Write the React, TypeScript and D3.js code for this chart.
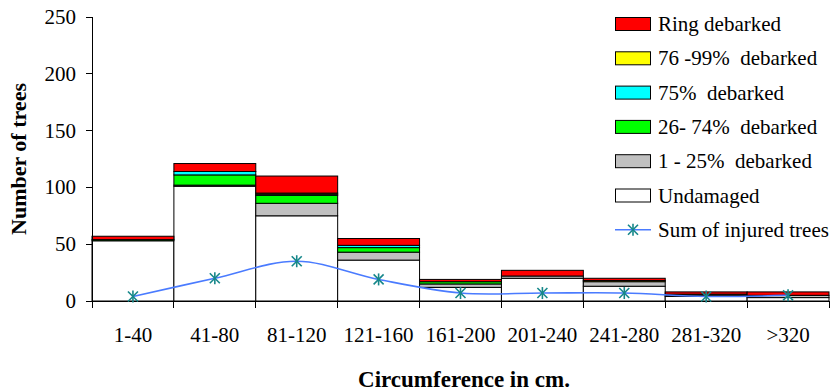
import React from "react";
import * as d3 from "d3";

const categories = ["1-40", "41-80", "81-120", "121-160", "161-200", "201-240", "241-280", "281-320", ">320"];
const undamaged = [53, 101, 75, 36, 12, 20, 13, 4, 3];
const deb1to25 = [0, 1, 11, 7, 3, 2, 4, 1, 2];
const deb26to74 = [1, 9, 7, 4, 2, 0, 0, 0, 0];
const deb75 = [0, 3, 1, 2, 0, 0, 0, 0, 0];
const deb76to99 = [0, 0, 1, 0, 0, 0, 1, 1, 0];
const ringDebarked = [3, 7, 15, 6, 2, 5, 2, 2, 3];
const injuredSum = [4, 20, 35, 19, 7, 7, 7, 4, 5];
const yTicks = [0, 50, 100, 150, 200, 250];

const seriesNames = ["Undamaged", "1 - 25%  debarked", "26- 74%  debarked", "75%  debarked", "76 -99%  debarked", "Ring debarked"];
const seriesValues = [undamaged, deb1to25, deb26to74, deb75, deb76to99, ringDebarked];
const seriesColors = ["#FFFFFF", "#C0C0C0", "#00FF00", "#00FFFF", "#FFFF00", "#FF0000"];
const lineName = "Sum of injured trees";

const W = 833;
const H = 392;
const FONT = "'Liberation Serif', 'Times New Roman', serif";

export default function App() {
  const x = d3.scaleBand<string>().domain(categories).range([92, 829]).padding(0);
  const y = d3.scaleLinear().domain([0, 250]).range([301, 17]);

  const rows = categories.map((c, i) => {
    const o: any = { cat: c };
    seriesNames.forEach((n, k) => (o[n] = seriesValues[k][i]));
    return o;
  });
  const stacked = d3.stack<any>().keys(seriesNames)(rows);

  const line = d3
    .line<number>()
    .x((_, i) => (x(categories[i]) as number) + x.bandwidth() / 2)
    .y((d) => y(d))
    .curve(d3.curveCatmullRom.alpha(0));

  const star = (cx: number, cy: number, key: string) => {
    const r = 5;
    return (
      <g key={key} stroke="#16878A" strokeWidth={1.6}>
        <line x1={cx - r} y1={cy - r} x2={cx + r} y2={cy + r} />
        <line x1={cx - r} y1={cy + r} x2={cx + r} y2={cy - r} />
        <line x1={cx} y1={cy - r - 1} x2={cx} y2={cy + r + 1} />
      </g>
    );
  };

  const legendItems = [...seriesNames].reverse().map((n) => ({
    name: n,
    color: seriesColors[seriesNames.indexOf(n)],
  }));
  const legendY0 = 24;
  const legendStep = 34.3;

  return (
    <svg
      width={W}
      height={H}
      style={{ position: "absolute", left: 0, top: 0, background: "#fff" }}
      fontFamily={FONT}
    >
      {/* bars */}
      {stacked.map((s, k) => (
        <g key={s.key} fill={seriesColors[k]} stroke="#000" strokeWidth={1}>
          {s.map((d, i) =>
            d[1] - d[0] > 0 ? (
              <rect
                key={i}
                x={x(categories[i])}
                y={y(d[1])}
                width={x.bandwidth()}
                height={y(d[0]) - y(d[1])}
              />
            ) : null
          )}
        </g>
      ))}

      {/* axes */}
      <g stroke="#000" strokeWidth={1} shapeRendering="crispEdges">
        <line x1={92} y1={y(250)} x2={92} y2={y(0)} />
        {yTicks.map((t) => (
          <line key={t} x1={86} x2={92} y1={y(t)} y2={y(t)} />
        ))}
        <line x1={92} y1={y(0)} x2={829} y2={y(0)} />
        {categories.map((c) => (
          <line key={c} x1={x(c)} x2={x(c)} y1={y(0)} y2={y(0) + 7} />
        ))}
        <line x1={829} x2={829} y1={y(0)} y2={y(0) + 7} />
      </g>

      {yTicks.map((t) => (
        <text key={t} x={76} y={y(t)} textAnchor="end" dominantBaseline="central" fontSize={21}>
          {t}
        </text>
      ))}
      {categories.map((c) => (
        <text
          key={c}
          x={(x(c) as number) + x.bandwidth() / 2}
          y={335}
          textAnchor="middle"
          dominantBaseline="central"
          fontSize={21}
        >
          {c}
        </text>
      ))}

      <text
        transform={`translate(18,159) rotate(-90)`}
        textAnchor="middle"
        dominantBaseline="central"
        fontSize={22}
        fontWeight="bold"
      >
        Number of trees
      </text>
      <text x={464} y={379} textAnchor="middle" dominantBaseline="central" fontSize={23} fontWeight="bold">
        Circumference in cm.
      </text>

      {/* sum line */}
      <path d={line(injuredSum) || ""} fill="none" stroke="#4A7BFF" strokeWidth={1.6} />
      {injuredSum.map((v, i) => star((x(categories[i]) as number) + x.bandwidth() / 2, y(v), "s" + i))}

      {/* legend */}
      {legendItems.map((it, i) => {
        const cy = legendY0 + i * legendStep;
        return (
          <g key={it.name}>
            <rect x={615.5} y={cy - 6.5} width={35} height={13} fill={it.color} stroke="#000" strokeWidth={1} />
            <text x={658} y={cy} dominantBaseline="central" fontSize={21} style={{ whiteSpace: "pre" }}>
              {it.name}
            </text>
          </g>
        );
      })}
      {(() => {
        const cy = legendY0 + legendItems.length * legendStep;
        return (
          <g>
            <line x1={615} x2={651} y1={cy} y2={cy} stroke="#4A7BFF" strokeWidth={1.6} />
            {star(633, cy, "legstar")}
            <text x={658} y={cy} dominantBaseline="central" fontSize={21}>
              {lineName}
            </text>
          </g>
        );
      })()}
    </svg>
  );
}
